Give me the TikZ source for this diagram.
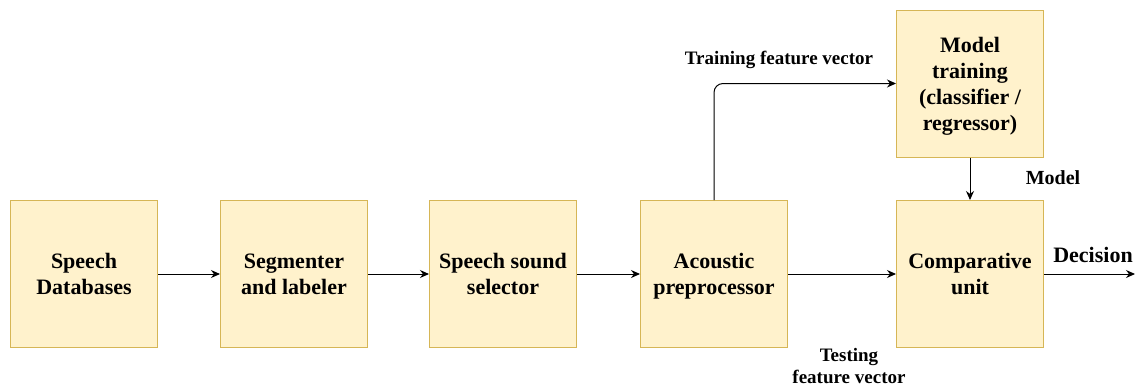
\documentclass[tikz,border=0pt]{standalone}
\usepackage{fontspec}
\setmainfont{Liberation Serif}
\usepackage{xcolor}
\usetikzlibrary{arrows.meta}
\definecolor{boxfill}{HTML}{FFF2CC}
\definecolor{boxline}{HTML}{D6B656}

\begin{document}
\begin{tikzpicture}[x=1pt,y=-1pt,
  blockbox/.style={draw=boxline,fill=boxfill,line width=1pt,minimum width=147pt,
    minimum height=147pt,align=center,inner sep=2pt,text depth=0pt,
    font=\fontsize{22}{26}\selectfont\bfseries},
  flowline/.style={line width=1pt,-{Stealth[length=9pt,width=8pt]}},
  lbl/.style={align=center,font=\fontsize{19}{22}\selectfont\bfseries}]
\useasboundingbox (0,0) rectangle (1135,389);
\foreach \n/\x/\t in {db/84/{Speech\\Databases},seg/294/{Segmenter\\and labeler},
  sel/503/{Speech sound\\selector},ac/714/{Acoustic\\preprocessor},cmp/970/{Comparative\\unit}}{%
\node[blockbox] (\n) at (\x,274) {\t};
}
\node[blockbox] (model) at (970,83.5) {Model\\training\\(classifier /\\regressor)};
\coordinate (out) at (1135,274);
\draw[flowline] (db) -- (seg);
\draw[flowline] (seg) -- (sel);
\draw[flowline] (sel) -- (ac);
\draw[flowline] (ac) -- (cmp);
\draw[flowline,rounded corners=9pt] (ac.north) |- (model.west);
\draw[flowline] (model) -- (cmp);
\draw[flowline] (cmp) -- (out);
\node[lbl] (trainlbl) at (779,60) {Training feature vector};
\node[lbl] (testlbl) at (849,366) {Testing\\feature vector};
\node[lbl,font=\fontsize{20}{22}\selectfont\bfseries] (modellbl) at (1053,178) {Model};
\node[lbl,font=\fontsize{22}{22}\selectfont\bfseries] (declbl) at (1093,255) {Decision};
\end{tikzpicture}
\end{document}
